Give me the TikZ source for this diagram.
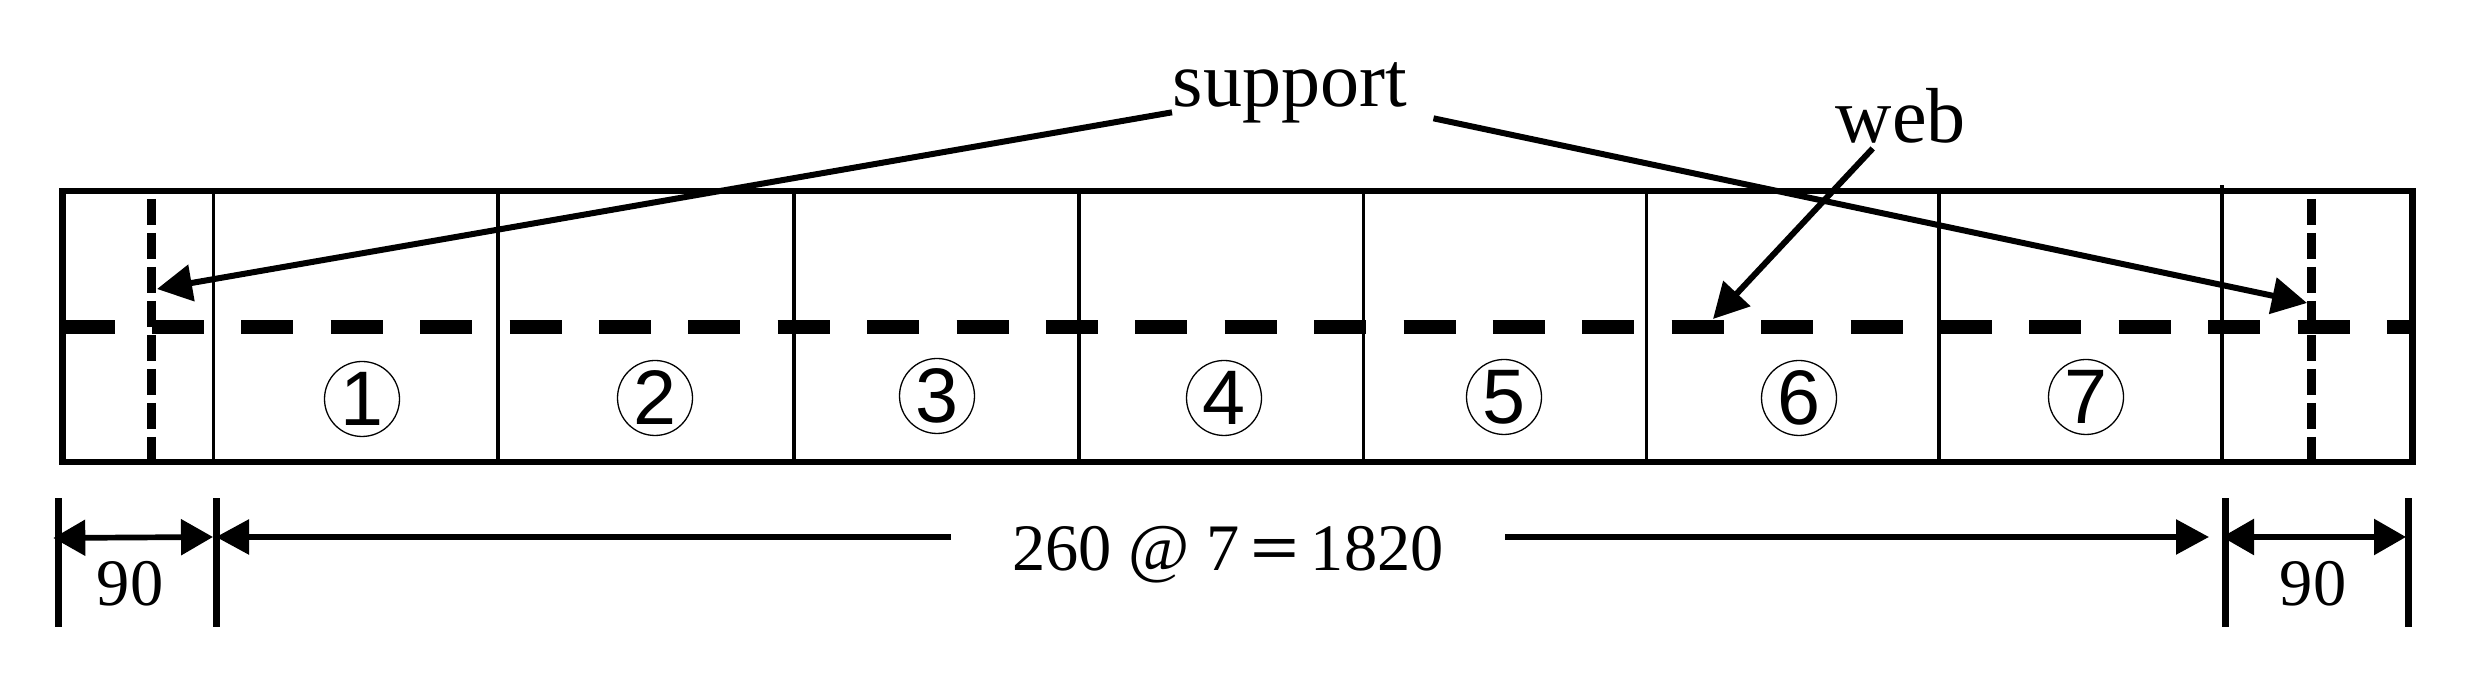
\documentclass[tikz,border=0pt]{standalone}
\usepackage{fontspec}
\setmainfont{Liberation Serif}
\newfontfamily\numfont{Liberation Sans}
\usetikzlibrary{arrows.meta}
\begin{document}
\begin{tikzpicture}[
    every path/.style={line cap=butt},
    frameline/.style={line width=0.65mm},
    cellline/.style={line width=0.35mm},
    webline/.style={line width=1.4mm, dash pattern=on 5.2mm off 3.74mm},
    supportline/.style={line width=0.87mm, dash pattern=on 2.6mm off 0.8mm},
    leader/.style={line width=0.6mm, -{Triangle[length=3.5mm,width=3.6mm]}},
    dimline/.style={line width=0.57mm, {Triangle[length=3.2mm,width=3.5mm]}-{Triangle[length=3.2mm,width=3.5mm]}},
    dimhalf/.style={line width=0.57mm, -{Triangle[length=3.3mm,width=3.4mm]}},
    dimtick/.style={line width=0.7mm},
    cellnum/.style={circle, draw, line width=0.13mm, minimum size=0.75cm, inner sep=0pt, font=\fontsize{22}{22}\selectfont\numfont},
    bigtext/.style={inner sep=0pt, anchor=base west, font=\fontsize{22.2}{24}\selectfont},
    dimtext/.style={inner sep=0pt, font=\fontsize{18.9}{22}\selectfont}
]
    \useasboundingbox (0,0) rectangle (24.71,6.82);

    % beam outline and the cells
    \draw[frameline] (0.625,2.20) rectangle (24.127,4.91);
    \foreach \x in {2.137,4.98,7.94,10.79,13.635,16.465,19.39} {
        \draw[cellline] (\x,2.20) -- (\x,4.91);
    }
    \draw[cellline] (22.22,2.20) -- (22.22,4.97);

    % web and supports
    \draw[webline] (0.625,3.55) -- (24.127,3.55);
    \draw[supportline] (1.513,4.83) -- (1.513,2.20);
    \draw[supportline] (23.117,4.83) -- (23.117,2.20);

    \foreach \x/\n/\y in {3.62/1/2.83,6.55/2/2.84,9.37/3/2.86,12.24/4/2.84,15.04/5/2.85,17.99/6/2.84,20.86/7/2.85} {
        \node[cellnum] (cell\n) at (\x,\y) {\n};
    }

    % labels and leaders
    \node[bigtext] (support) at (11.72,5.75) {support};
    \node[bigtext] (web) at (18.35,5.39) {web};
    \coordinate (suptipL) at (1.57,3.93);
    \coordinate (suptipR) at (23.07,3.79);
    \coordinate (webtip) at (17.13,3.63);
    \draw[leader] ([yshift=-1.9mm]support.west) -- (suptipL);
    \draw[leader] ([xshift=2.6mm,yshift=-2.5mm]support.east) -- (suptipR);
    \draw[leader] ([xshift=-2.8mm,yshift=-0.4mm]web.south) -- (webtip);

    % dimensions
    \coordinate (dim0) at (0.583,1.44);
    \coordinate (dim1) at (2.16,1.45);
    \coordinate (dim2) at (22.25,1.45);
    \coordinate (dim3) at (24.08,1.45);
    \foreach \d in {dim0,dim1,dim2,dim3} {
        \draw[dimtick] (\d |- 0,0.55) -- (\d |- 0,1.84);
    }
    \node[dimtext, inner xsep=6.1mm, anchor=base] (dimmain) at (12.28,1.11) {260 @ 7\,\scalebox{1.3}[1]{\textbf{=}}\,1820};
    \node[dimtext, anchor=base] (dimL) at (1.30,0.76) {90};
    \node[dimtext, anchor=base] (dimR) at (23.13,0.76) {90};
    \draw[dimline] ([xshift=-0.5mm]dim0) -- ([xshift=-0.3mm]dim1);
    \draw[dimhalf] (dimmain.west |- dim1) -- (dim1);
    \draw[dimhalf] (dimmain.east |- dim2) -- ([xshift=-1.6mm]dim2);
    \draw[dimline] ([xshift=-0.3mm]dim2) -- ([xshift=-0.2mm]dim3);
\end{tikzpicture}
\end{document}
